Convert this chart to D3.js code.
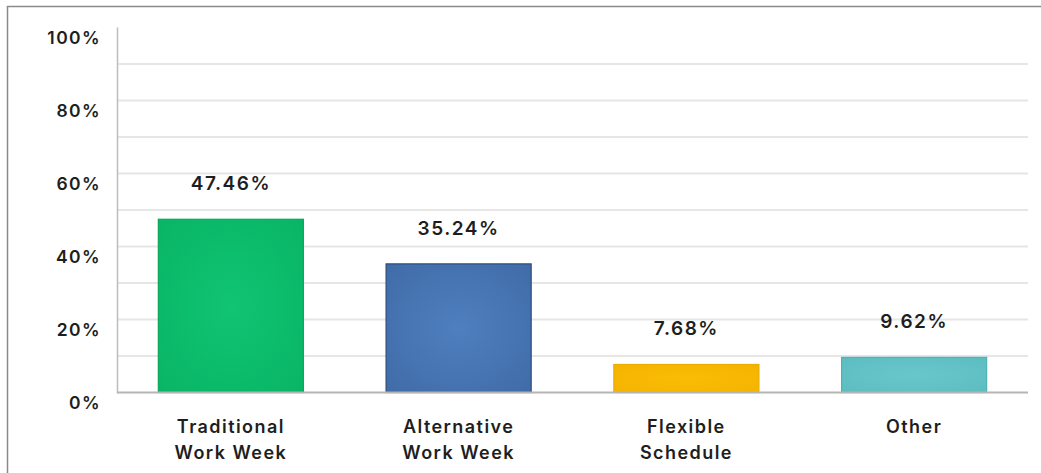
<!DOCTYPE html>
<html>
<head>
<meta charset="utf-8">
<script src="https://cdn.jsdelivr.net/npm/d3@7"></script>
<style>
  html, body { margin: 0; padding: 0; background: #fff; }
  svg { display: block; }
  text { font-family: Inter, "Noto Sans", sans-serif; font-weight: 600; fill: #1e1e1e; letter-spacing: 0.08em; }
</style>
</head>
<body>
<svg id="chart" width="1041" height="473"></svg>
<script>
// Survey results: preferred work schedule
const categories = ["Traditional Work Week", "Alternative Work Week", "Flexible Schedule", "Other"];
const categoryLines = [["Traditional", "Work Week"], ["Alternative", "Work Week"], ["Flexible", "Schedule"], ["Other"]];
const values = [47.46, 35.24, 7.68, 9.62];
const valueLabels = ["47.46%", "35.24%", "7.68%", "9.62%"];
const tickValues = [0, 20, 40, 60, 80, 100];
const tickLabels = ["0%", "20%", "40%", "60%", "80%", "100%"];
const gridValues = [10, 20, 30, 40, 50, 60, 70, 80, 90];

const fillsLight = ["#10c472", "#4f7fbf", "#fabd05", "#68c7ca"];
const fillsDark = ["#08b464", "#3f6aa6", "#f4b200", "#5bbcbf"];
const strokes = ["#0aa75d", "#2c4c7c", "#eaad00", "#50b1b4"];

const svg = d3.select("#chart");
const W = 1041, H = 473;
const plot = { left: 117, right: 1028, top: 27.5, bottom: 392.5 };

// Soft radial shading inside each bar
const defs = svg.append("defs");
fillsLight.forEach((c, i) => {
  const g = defs.append("radialGradient").attr("id", "barfill" + i)
    .attr("cx", "50%").attr("cy", "50%").attr("r", "75%");
  g.append("stop").attr("offset", "0%").attr("stop-color", c);
  g.append("stop").attr("offset", "100%").attr("stop-color", fillsDark[i]);
});

// Frame lines on the top and left edges
svg.append("line").attr("x1", 7).attr("x2", W).attr("y1", 6.5).attr("y2", 6.5)
  .attr("stroke", "#8a8a8a").attr("stroke-width", 1.5);
svg.append("line").attr("x1", 7.5).attr("x2", 7.5).attr("y1", 6).attr("y2", H)
  .attr("stroke", "#8a8a8a").attr("stroke-width", 1.5);

const x = d3.scaleBand()
  .domain(categories)
  .range([plot.left, plot.right])
  .paddingInner(0.363)
  .paddingOuter(0.1815);

const y = d3.scaleLinear().domain([0, 100]).range([plot.bottom, plot.top]);

// Horizontal gridlines
svg.append("g").selectAll("line").data(gridValues).join("line")
  .attr("x1", plot.left + 1).attr("x2", plot.right)
  .attr("y1", d => y(d)).attr("y2", d => y(d))
  .attr("stroke", "#e6e6e6").attr("stroke-width", 2);

// Y axis: labels sit slightly below their tick positions
const yAxis = d3.axisLeft(y)
  .tickValues(tickValues)
  .tickFormat((d, i) => tickLabels[i])
  .tickSize(0)
  .tickPadding(16);
const gy = svg.append("g").attr("transform", `translate(${plot.left},0)`).call(yAxis);
gy.select(".domain").remove();
gy.selectAll("text")
  .attr("dy", "0.9em")
  .style("font-size", "17.5px")
  .style("font-family", "Inter, 'Noto Sans', sans-serif")
  .style("font-weight", 600)
  .attr("fill", "#1e1e1e");

svg.append("line")
  .attr("x1", plot.left + 0.5).attr("x2", plot.left + 0.5)
  .attr("y1", plot.top).attr("y2", plot.bottom + 1)
  .attr("stroke", "#bdbdbd").attr("stroke-width", 1.5);

// Bars
svg.append("g").selectAll("rect").data(values).join("rect")
  .attr("x", (d, i) => x(categories[i]))
  .attr("width", x.bandwidth())
  .attr("y", d => y(d))
  .attr("height", d => y(0) - y(d))
  .attr("fill", (d, i) => `url(#barfill${i})`)
  .attr("stroke", (d, i) => strokes[i])
  .attr("stroke-width", 1.2);

// Baseline
svg.append("line")
  .attr("x1", plot.left).attr("x2", plot.right)
  .attr("y1", plot.bottom).attr("y2", plot.bottom)
  .attr("stroke", "#b5b5b5").attr("stroke-width", 2);

// Value labels above each bar
svg.append("g").selectAll("text").data(values).join("text")
  .attr("x", (d, i) => x(categories[i]) + x.bandwidth() / 2)
  .attr("y", d => y(d) - 36)
  .attr("dy", "0.35em")
  .attr("text-anchor", "middle")
  .style("font-size", "19px")
  .text((d, i) => valueLabels[i]);

// Category labels, one or two lines
const cat = svg.append("g").selectAll("text").data(categoryLines).join("text")
  .attr("x", (d, i) => x(categories[i]) + x.bandwidth() / 2)
  .attr("y", 427)
  .attr("text-anchor", "middle")
  .style("font-size", "18px");
cat.selectAll("tspan").data(d => d).join("tspan")
  .attr("x", function () { return d3.select(this.parentNode).attr("x"); })
  .attr("y", (d, j) => 427 + j * 26)
  .attr("dy", "0.35em")
  .text(d => d);
</script>
</body>
</html>
